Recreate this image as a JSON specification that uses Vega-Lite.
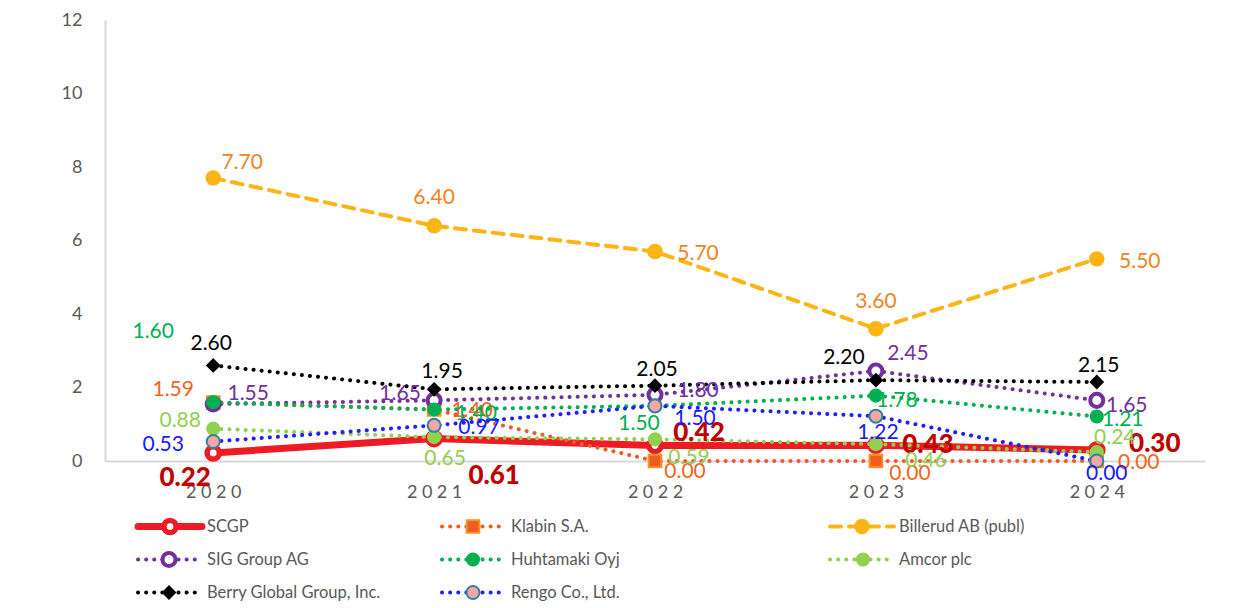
{
  "$schema": "https://vega.github.io/schema/vega-lite/v6.json",
  "background": "white",
  "padding": {"left": 61, "top": 11, "right": 10, "bottom": 4},
  "spacing": 8,
  "config": {
    "view": {"stroke": null},
    "font": "Lato",
    "text": {"font": "Lato", "fontSize": 21, "align": "center", "baseline": "middle"},
    "axis": {"labelFont": "Lato"}
  },
  "resolve": {"scale": {"x": "independent", "y": "independent"}},
  "datasets": {
    "main": [
      {"company": "SCGP", "year": "2020", "value": 0.22},
      {"company": "SCGP", "year": "2021", "value": 0.61},
      {"company": "SCGP", "year": "2022", "value": 0.42},
      {"company": "SCGP", "year": "2023", "value": 0.43},
      {"company": "SCGP", "year": "2024", "value": 0.30},
      {"company": "Klabin S.A.", "year": "2020", "value": 1.59},
      {"company": "Klabin S.A.", "year": "2021", "value": 1.40},
      {"company": "Klabin S.A.", "year": "2022", "value": 0.00},
      {"company": "Klabin S.A.", "year": "2023", "value": 0.00},
      {"company": "Klabin S.A.", "year": "2024", "value": 0.00},
      {"company": "Billerud AB (publ)", "year": "2020", "value": 7.70},
      {"company": "Billerud AB (publ)", "year": "2021", "value": 6.40},
      {"company": "Billerud AB (publ)", "year": "2022", "value": 5.70},
      {"company": "Billerud AB (publ)", "year": "2023", "value": 3.60},
      {"company": "Billerud AB (publ)", "year": "2024", "value": 5.50},
      {"company": "SIG Group AG", "year": "2020", "value": 1.55},
      {"company": "SIG Group AG", "year": "2021", "value": 1.65},
      {"company": "SIG Group AG", "year": "2022", "value": 1.80},
      {"company": "SIG Group AG", "year": "2023", "value": 2.45},
      {"company": "SIG Group AG", "year": "2024", "value": 1.65},
      {"company": "Huhtamaki Oyj", "year": "2020", "value": 1.60},
      {"company": "Huhtamaki Oyj", "year": "2021", "value": 1.40},
      {"company": "Huhtamaki Oyj", "year": "2022", "value": 1.50},
      {"company": "Huhtamaki Oyj", "year": "2023", "value": 1.78},
      {"company": "Huhtamaki Oyj", "year": "2024", "value": 1.21},
      {"company": "Amcor plc", "year": "2020", "value": 0.88},
      {"company": "Amcor plc", "year": "2021", "value": 0.65},
      {"company": "Amcor plc", "year": "2022", "value": 0.59},
      {"company": "Amcor plc", "year": "2023", "value": 0.46},
      {"company": "Amcor plc", "year": "2024", "value": 0.24},
      {"company": "Berry Global Group, Inc.", "year": "2020", "value": 2.60},
      {"company": "Berry Global Group, Inc.", "year": "2021", "value": 1.95},
      {"company": "Berry Global Group, Inc.", "year": "2022", "value": 2.05},
      {"company": "Berry Global Group, Inc.", "year": "2023", "value": 2.20},
      {"company": "Berry Global Group, Inc.", "year": "2024", "value": 2.15},
      {"company": "Rengo Co., Ltd.", "year": "2020", "value": 0.53},
      {"company": "Rengo Co., Ltd.", "year": "2021", "value": 0.97},
      {"company": "Rengo Co., Ltd.", "year": "2022", "value": 1.50},
      {"company": "Rengo Co., Ltd.", "year": "2023", "value": 1.22},
      {"company": "Rengo Co., Ltd.", "year": "2024", "value": 0.00}
    ]
  },
  "vconcat": [
    {
      "width": 1100,
      "height": 441,
      "data": {"name": "main"},
      "encoding": {
        "x": {"field": "year", "type": "ordinal", "scale": {"type": "point", "padding": 0.49},
          "axis": {"title": null, "labelAngle": 0, "ticks": false, "domainColor": "#D9D9D9", "domainWidth": 2, "labelFontSize": 18, "labelColor": "#595959", "labelPadding": 22, "labelExpr": "join(split(datum.label, ''), '\u2005')"}},
        "y": {"field": "value", "type": "quantitative", "scale": {"domain": [0, 12], "nice": false},
          "axis": {"title": null, "values": [0, 2, 4, 6, 8, 10, 12], "grid": false, "ticks": false, "domainColor": "#D9D9D9", "domainWidth": 2, "labelFontSize": 18, "labelColor": "#595959", "labelPadding": 23}}
      },
      "layer": [
        {"transform": [{"filter": "datum.company === 'SCGP'"}], "mark": {"type": "line", "color": "#ED1C24", "strokeWidth": 7, "strokeCap": "round", "strokeJoin": "round"}, "encoding": {}},
        {"transform": [{"filter": "datum.company === 'SCGP'"}], "mark": {"type": "point", "shape": "circle", "filled": true, "fill": "#FFFFFF", "stroke": "#ED1C24", "strokeWidth": 5.5, "size": 150, "opacity": 1}},
        {"transform": [{"filter": "datum.company !== 'SCGP' && datum.company !== 'Billerud AB (publ)'"}],
          "mark": {"type": "line", "strokeWidth": 4, "strokeDash": [0.1, 8], "strokeCap": "round"},
          "encoding": {"color": {"field": "company", "type": "nominal", "legend": null,
            "scale": {"domain": ["SCGP", "Klabin S.A.", "Billerud AB (publ)", "SIG Group AG", "Huhtamaki Oyj", "Amcor plc", "Berry Global Group, Inc.", "Rengo Co., Ltd."],
              "range": ["#ED1C24", "#F15A22", "#FDB515", "#7030A0", "#00B050", "#92D050", "#000000", "#1F1FFF"]}}}},
        {"transform": [{"filter": "datum.company === 'Billerud AB (publ)'"}], "mark": {"type": "line", "color": "#FDB515", "strokeWidth": 4, "strokeDash": [11, 8], "strokeCap": "round"}, "encoding": {}},
        {"transform": [{"filter": "datum.company === 'Klabin S.A.'"}], "mark": {"type": "point", "shape": "square", "filled": true, "fill": "#F15A22", "stroke": "#F7941D", "strokeWidth": 2, "size": 160, "opacity": 1}},
        {"transform": [{"filter": "datum.company === 'Billerud AB (publ)'"}], "mark": {"type": "point", "shape": "circle", "filled": true, "fill": "#FDB515", "size": 240, "opacity": 1}},
        {"transform": [{"filter": "datum.company === 'SIG Group AG'"}], "mark": {"type": "point", "shape": "circle", "filled": true, "fill": "#FFFFFF", "stroke": "#7030A0", "strokeWidth": 4, "size": 170, "opacity": 1}},
        {"transform": [{"filter": "datum.company === 'Huhtamaki Oyj'"}], "mark": {"type": "point", "shape": "circle", "filled": true, "fill": "#00B050", "size": 200, "opacity": 1}},
        {"transform": [{"filter": "datum.company === 'Amcor plc'"}], "mark": {"type": "point", "shape": "circle", "filled": true, "fill": "#92D050", "size": 200, "opacity": 1}},
        {"transform": [{"filter": "datum.company === 'Berry Global Group, Inc.'"}], "mark": {"type": "point", "shape": "diamond", "filled": true, "fill": "#000000", "size": 220, "opacity": 1}},
        {"transform": [{"filter": "datum.company === 'Rengo Co., Ltd.'"}], "mark": {"type": "point", "shape": "circle", "filled": true, "fill": "#F4A7A7", "stroke": "#31849B", "strokeWidth": 2, "size": 170, "opacity": 1}},
        {"transform": [{"filter": "datum.company === 'SCGP'"}],
          "encoding": {"text": {"field": "value", "type": "quantitative", "format": ".2f"}},
          "layer": [
            {"transform": [{"filter": "datum.year === '2020'"}], "mark": {"type": "text", "color": "#C00000", "fontWeight": 900, "fontSize": 26, "dx": -28, "dy": 25}},
            {"transform": [{"filter": "datum.year === '2021'"}], "mark": {"type": "text", "color": "#C00000", "fontWeight": 900, "fontSize": 26, "dx": 60, "dy": 37}},
            {"transform": [{"filter": "datum.year === '2022'"}], "mark": {"type": "text", "color": "#C00000", "fontWeight": 900, "fontSize": 26, "dx": 44, "dy": -13}},
            {"transform": [{"filter": "datum.year === '2023'"}], "mark": {"type": "text", "color": "#C00000", "fontWeight": 900, "fontSize": 26, "dx": 52, "dy": 0}},
            {"transform": [{"filter": "datum.year === '2024'"}], "mark": {"type": "text", "color": "#C00000", "fontWeight": 900, "fontSize": 26, "dx": 58, "dy": -6}}
          ]},
        {"transform": [{"filter": "datum.company === 'Klabin S.A.'"}],
          "encoding": {"text": {"field": "value", "type": "quantitative", "format": ".2f"}},
          "layer": [
            {"transform": [{"filter": "datum.year === '2020'"}], "mark": {"type": "text", "color": "#F26522", "dx": -40, "dy": -13}},
            {"transform": [{"filter": "datum.year === '2021'"}], "mark": {"type": "text", "color": "#F26522", "dx": 38, "dy": 1}},
            {"transform": [{"filter": "datum.year === '2022'"}], "mark": {"type": "text", "color": "#F26522", "dx": 30, "dy": 11}},
            {"transform": [{"filter": "datum.year === '2023'"}], "mark": {"type": "text", "color": "#F26522", "dx": 34, "dy": 13}},
            {"transform": [{"filter": "datum.year === '2024'"}], "mark": {"type": "text", "color": "#F26522", "dx": 42, "dy": 2}}
          ]},
        {"transform": [{"filter": "datum.company === 'Billerud AB (publ)'"}],
          "encoding": {"text": {"field": "value", "type": "quantitative", "format": ".2f"}},
          "layer": [
            {"transform": [{"filter": "datum.year === '2020'"}], "mark": {"type": "text", "color": "#F58220", "dx": 29, "dy": -15}},
            {"transform": [{"filter": "datum.year === '2021'"}], "mark": {"type": "text", "color": "#F58220", "dx": 0, "dy": -28}},
            {"transform": [{"filter": "datum.year === '2022'"}], "mark": {"type": "text", "color": "#F58220", "dx": 43, "dy": 2}},
            {"transform": [{"filter": "datum.year === '2023'"}], "mark": {"type": "text", "color": "#F58220", "dx": 0, "dy": -27}},
            {"transform": [{"filter": "datum.year === '2024'"}], "mark": {"type": "text", "color": "#F58220", "dx": 43, "dy": 3}}
          ]},
        {"transform": [{"filter": "datum.company === 'SIG Group AG'"}],
          "encoding": {"text": {"field": "value", "type": "quantitative", "format": ".2f"}},
          "layer": [
            {"transform": [{"filter": "datum.year === '2020'"}], "mark": {"type": "text", "color": "#7030A0", "dx": 35, "dy": -10}},
            {"transform": [{"filter": "datum.year === '2021'"}], "mark": {"type": "text", "color": "#7030A0", "dx": -34, "dy": -6}},
            {"transform": [{"filter": "datum.year === '2022'"}], "mark": {"type": "text", "color": "#7030A0", "dx": 43, "dy": -4}},
            {"transform": [{"filter": "datum.year === '2023'"}], "mark": {"type": "text", "color": "#7030A0", "dx": 32, "dy": -17}},
            {"transform": [{"filter": "datum.year === '2024'"}], "mark": {"type": "text", "color": "#7030A0", "dx": 30, "dy": 6}}
          ]},
        {"transform": [{"filter": "datum.company === 'Huhtamaki Oyj'"}],
          "encoding": {"text": {"field": "value", "type": "quantitative", "format": ".2f"}},
          "layer": [
            {"transform": [{"filter": "datum.year === '2020'"}], "mark": {"type": "text", "color": "#00B050", "dx": -60, "dy": -70}},
            {"transform": [{"filter": "datum.year === '2021'"}], "mark": {"type": "text", "color": "#00B050", "dx": 42, "dy": 4}},
            {"transform": [{"filter": "datum.year === '2022'"}], "mark": {"type": "text", "color": "#00B050", "dx": -16, "dy": 18}},
            {"transform": [{"filter": "datum.year === '2023'"}], "mark": {"type": "text", "color": "#00B050", "dx": 21, "dy": 5}},
            {"transform": [{"filter": "datum.year === '2024'"}], "mark": {"type": "text", "color": "#00B050", "dx": 26, "dy": 3}}
          ]},
        {"transform": [{"filter": "datum.company === 'Amcor plc'"}],
          "encoding": {"text": {"field": "value", "type": "quantitative", "format": ".2f"}},
          "layer": [
            {"transform": [{"filter": "datum.year === '2020'"}], "mark": {"type": "text", "color": "#92D050", "dx": -33, "dy": -8}},
            {"transform": [{"filter": "datum.year === '2021'"}], "mark": {"type": "text", "color": "#92D050", "dx": 11, "dy": 22}},
            {"transform": [{"filter": "datum.year === '2022'"}], "mark": {"type": "text", "color": "#92D050", "dx": 34, "dy": 19}},
            {"transform": [{"filter": "datum.year === '2023'"}], "mark": {"type": "text", "color": "#92D050", "dx": 50, "dy": 17}},
            {"transform": [{"filter": "datum.year === '2024'"}], "mark": {"type": "text", "color": "#92D050", "dx": 18, "dy": -14}}
          ]},
        {"transform": [{"filter": "datum.company === 'Berry Global Group, Inc.'"}],
          "encoding": {"text": {"field": "value", "type": "quantitative", "format": ".2f"}},
          "layer": [
            {"transform": [{"filter": "datum.year === '2020'"}], "mark": {"type": "text", "color": "#000000", "dx": -2, "dy": -21}},
            {"transform": [{"filter": "datum.year === '2021'"}], "mark": {"type": "text", "color": "#000000", "dx": 8, "dy": -17}},
            {"transform": [{"filter": "datum.year === '2022'"}], "mark": {"type": "text", "color": "#000000", "dx": 2, "dy": -16}},
            {"transform": [{"filter": "datum.year === '2023'"}], "mark": {"type": "text", "color": "#000000", "dx": -32, "dy": -22}},
            {"transform": [{"filter": "datum.year === '2024'"}], "mark": {"type": "text", "color": "#000000", "dx": 2, "dy": -16}}
          ]},
        {"transform": [{"filter": "datum.company === 'Rengo Co., Ltd.'"}],
          "encoding": {"text": {"field": "value", "type": "quantitative", "format": ".2f"}},
          "layer": [
            {"transform": [{"filter": "datum.year === '2020'"}], "mark": {"type": "text", "color": "#1A1AFF", "dx": -50, "dy": 3}},
            {"transform": [{"filter": "datum.year === '2021'"}], "mark": {"type": "text", "color": "#1A1AFF", "dx": 45, "dy": 3}},
            {"transform": [{"filter": "datum.year === '2022'"}], "mark": {"type": "text", "color": "#1A1AFF", "dx": 40, "dy": 13}},
            {"transform": [{"filter": "datum.year === '2023'"}], "mark": {"type": "text", "color": "#1A1AFF", "dx": 2, "dy": 17}},
            {"transform": [{"filter": "datum.year === '2024'"}], "mark": {"type": "text", "color": "#1A1AFF", "dx": 10, "dy": 13}}
          ]}
      ]
    },
    {
      "width": 1100,
      "height": 99,
      "data": {"name": "main"},
      "transform": [
        {"filter": "datum.year === '2020'"},
        {"window": [{"op": "row_number", "as": "rn"}]},
        {"calculate": "(datum.rn - 1) % 3", "as": "col"},
        {"calculate": "floor((datum.rn - 1) / 3)", "as": "row"}
      ],
      "encoding": {
        "x": {"field": "col", "type": "quantitative", "scale": {"domain": [0, 1, 2], "range": [33, 337, 725], "nice": false, "zero": false}, "axis": null},
        "y": {"field": "row", "type": "ordinal", "scale": {"type": "point", "padding": 0.5}, "axis": null}
      },
      "layer": [
        {"transform": [{"filter": "datum.company === 'SCGP'"}], "mark": {"type": "rule", "color": "#ED1C24", "strokeWidth": 7, "strokeCap": "round", "x2Offset": 64}, "encoding": {"x2": {"field": "col"}}},
        {"transform": [{"filter": "datum.company === 'Billerud AB (publ)'"}], "mark": {"type": "rule", "color": "#FDB515", "strokeWidth": 4, "strokeDash": [11, 8], "strokeCap": "round", "x2Offset": 64}, "encoding": {"x2": {"field": "col"}}},
        {"transform": [{"filter": "datum.company !== 'SCGP' && datum.company !== 'Billerud AB (publ)'"}],
          "mark": {"type": "rule", "strokeWidth": 4, "strokeDash": [0.1, 8], "strokeCap": "round", "x2Offset": 60},
          "encoding": {"x2": {"field": "col"}, "color": {"field": "company", "type": "nominal", "legend": null,
            "scale": {"domain": ["SCGP", "Klabin S.A.", "Billerud AB (publ)", "SIG Group AG", "Huhtamaki Oyj", "Amcor plc", "Berry Global Group, Inc.", "Rengo Co., Ltd."],
              "range": ["#ED1C24", "#F15A22", "#FDB515", "#7030A0", "#00B050", "#92D050", "#000000", "#1F1FFF"]}}}},
        {"transform": [{"filter": "datum.company === 'SCGP'"}], "mark": {"type": "point", "shape": "circle", "filled": true, "fill": "#FFFFFF", "stroke": "#ED1C24", "strokeWidth": 5.5, "size": 150, "opacity": 1, "xOffset": 32}},
        {"transform": [{"filter": "datum.company === 'Klabin S.A.'"}], "mark": {"type": "point", "shape": "square", "filled": true, "fill": "#F15A22", "stroke": "#F7941D", "strokeWidth": 2, "size": 160, "opacity": 1, "xOffset": 31}},
        {"transform": [{"filter": "datum.company === 'Billerud AB (publ)'"}], "mark": {"type": "point", "shape": "circle", "filled": true, "fill": "#FDB515", "size": 240, "opacity": 1, "xOffset": 32}},
        {"transform": [{"filter": "datum.company === 'SIG Group AG'"}], "mark": {"type": "point", "shape": "circle", "filled": true, "fill": "#FFFFFF", "stroke": "#7030A0", "strokeWidth": 4, "size": 170, "opacity": 1, "xOffset": 31}},
        {"transform": [{"filter": "datum.company === 'Huhtamaki Oyj'"}], "mark": {"type": "point", "shape": "circle", "filled": true, "fill": "#00B050", "size": 200, "opacity": 1, "xOffset": 31}},
        {"transform": [{"filter": "datum.company === 'Amcor plc'"}], "mark": {"type": "point", "shape": "circle", "filled": true, "fill": "#92D050", "size": 200, "opacity": 1, "xOffset": 33}},
        {"transform": [{"filter": "datum.company === 'Berry Global Group, Inc.'"}], "mark": {"type": "point", "shape": "diamond", "filled": true, "fill": "#000000", "size": 220, "opacity": 1, "xOffset": 31}},
        {"transform": [{"filter": "datum.company === 'Rengo Co., Ltd.'"}], "mark": {"type": "point", "shape": "circle", "filled": true, "fill": "#F4A7A7", "stroke": "#31849B", "strokeWidth": 2, "size": 170, "opacity": 1, "xOffset": 31}},
        {"mark": {"type": "text", "align": "left", "dx": 69, "fontSize": 16.5, "color": "#595959"}, "encoding": {"text": {"field": "company"}}}
      ]
    }
  ]
}
